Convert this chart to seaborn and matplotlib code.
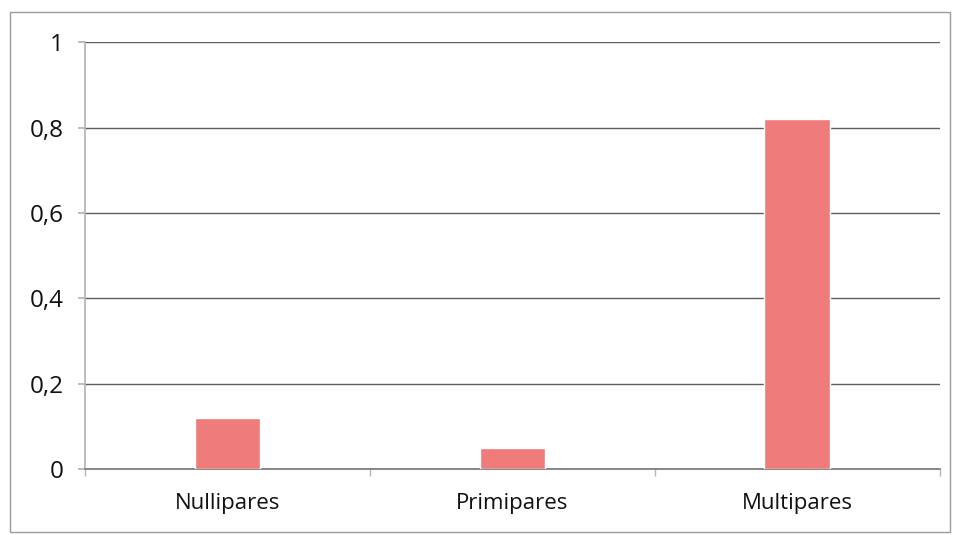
import matplotlib
matplotlib.use("Agg")
import matplotlib.pyplot as plt
import matplotlib.patches as mpatches
from matplotlib.ticker import FixedLocator, FuncFormatter
import seaborn as sns
import pandas as pd

categories = ["Nullipares", "Primipares", "Multipares"]
values = [0.12, 0.05, 0.82]
y_ticks = [0, 0.2, 0.4, 0.6, 0.8, 1]

sns.set_theme(style="white")
plt.rcParams["font.family"] = ["Open Sans", "DejaVu Sans"]

df = pd.DataFrame({"parite": categories, "proportion": values})

fig = plt.figure(figsize=(9.54, 5.35), dpi=100)
ax = fig.add_axes([0.089, 0.123, 0.896, 0.798])

sns.barplot(data=df, x="parite", y="proportion", color="#EF7B7B",
            saturation=1, width=0.23, ax=ax, zorder=3)

ax.set_ylim(0, 1)
ax.set_xlim(-0.5, len(categories) - 0.5)
ax.set_yticks(y_ticks)
ax.yaxis.set_major_formatter(FuncFormatter(
    lambda v, _: ("%g" % round(v, 1)).replace(".", ",")))
ax.grid(axis="y", color="#5e5e5e", linewidth=1.0, zorder=0)
ax.set_xlabel("")
ax.set_ylabel("")

for side in ["top", "right"]:
    ax.spines[side].set_visible(False)
ax.spines["left"].set_color("#b5b5b5")
ax.spines["bottom"].set_color("#7a7a7a")

ax.tick_params(axis="y", labelsize=17.5, labelcolor="#111111", left=True,
               length=5, color="#b5b5b5", pad=10)
ax.tick_params(axis="x", labelsize=16, labelcolor="#111111", length=0,
               pad=17)

# category boundary ticks along the bottom axis
ax.xaxis.set_minor_locator(FixedLocator([-0.5, 0.5, 1.5, 2.5]))
ax.tick_params(axis="x", which="minor", bottom=True, length=5,
               color="#b5b5b5", width=1)

# outer chart frame
fig.patches.append(mpatches.Rectangle((0.011, 0.006), 0.985, 0.972,
                                      transform=fig.transFigure, fill=False,
                                      edgecolor="#9a9a9a", linewidth=1.0))

fig.savefig("out.png", dpi=100, facecolor="white")
